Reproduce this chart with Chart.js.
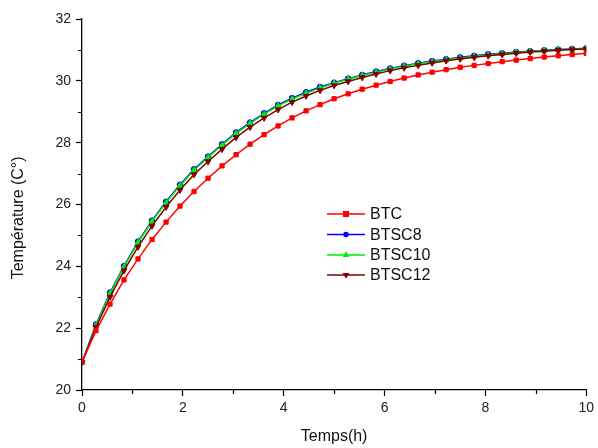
<!DOCTYPE html>
<html>
<head>
<meta charset="utf-8">
<script src="https://cdn.jsdelivr.net/npm/chart.js@4.4.0/dist/chart.umd.min.js"></script>
<style>
  html, body { margin: 0; padding: 0; background: #fff; }
  #wrap { width: 598px; height: 448px; }
</style>
</head>
<body>
<div id="wrap"><canvas id="chart" width="598" height="448"></canvas></div>
<script>
(function() {

  // time in hours (36 steps over 10 h)
  var temps = [0, 0.278, 0.556, 0.833, 1.111, 1.389, 1.667, 1.944, 2.222, 2.5, 2.778, 3.056,
    3.333, 3.611, 3.889, 4.167, 4.444, 4.722, 5, 5.278, 5.556, 5.833, 6.111, 6.389, 6.667,
    6.944, 7.222, 7.5, 7.778, 8.056, 8.333, 8.611, 8.889, 9.167, 9.444, 9.722, 10];

  var btc = [20.9, 21.92, 22.78, 23.56, 24.24, 24.87, 25.43, 25.95, 26.42, 26.85, 27.25, 27.61,
    27.95, 28.26, 28.54, 28.8, 29.03, 29.23, 29.42, 29.58, 29.73, 29.86, 29.98, 30.09, 30.19,
    30.28, 30.36, 30.44, 30.5, 30.56, 30.62, 30.67, 30.72, 30.77, 30.81, 30.85, 30.89];

  var btsc8 = [20.9, 22.12, 23.15, 24.01, 24.8, 25.48, 26.09, 26.64, 27.14, 27.55, 27.95, 28.33,
    28.65, 28.95, 29.22, 29.44, 29.63, 29.8, 29.94, 30.07, 30.19, 30.3, 30.4, 30.49, 30.57,
    30.64, 30.7, 30.76, 30.81, 30.86, 30.89, 30.93, 30.96, 30.99, 31.01, 31.03, 31.05];

  var btsc10 = [20.88, 22.09, 23.12, 23.98, 24.77, 25.45, 26.06, 26.61, 27.11, 27.52, 27.92, 28.3,
    28.62, 28.92, 29.19, 29.41, 29.6, 29.77, 29.92, 30.05, 30.17, 30.28, 30.38, 30.47, 30.55,
    30.62, 30.68, 30.74, 30.79, 30.84, 30.88, 30.92, 30.95, 30.98, 31.0, 31.02, 31.04];

  var btsc12 = [20.9, 22.03, 23.01, 23.86, 24.63, 25.31, 25.92, 26.47, 26.97, 27.39, 27.79, 28.17,
    28.5, 28.8, 29.07, 29.31, 29.51, 29.69, 29.85, 29.98, 30.11, 30.22, 30.33, 30.42, 30.5,
    30.58, 30.65, 30.71, 30.76, 30.81, 30.85, 30.89, 30.93, 30.96, 30.99, 31.01, 31.03];

  var seriesNames = ['BTC', 'BTSC8', 'BTSC10', 'BTSC12'];
  var seriesValues = [btc, btsc8, btsc10, btsc12];
  var seriesColours = ['#ff0000', '#0000ff', '#00ee00', '#800000'];
  var seriesMarkers = [
    {style: 'rect', radius: 3, rotation: 0},
    {style: 'circle', radius: 2.8, rotation: 0},
    {style: 'triangle', radius: 3.4, rotation: 0},
    {style: 'triangle', radius: 3.4, rotation: 180}
  ];
  var drawOrder = [1, 4, 3, 2];

  var font = 'Liberation Sans, Arial, sans-serif';

  function toPoints(values){
    return values.map(function(v, i){ return {x: temps[i], y: v}; });
  }

  var datasets = seriesNames.map(function(name, i){
    return {
      label: name,
      data: toPoints(seriesValues[i]),
      borderColor: seriesColours[i],
      backgroundColor: seriesColours[i],
      borderWidth: 1.5,
      pointStyle: seriesMarkers[i].style,
      pointRadius: seriesMarkers[i].radius,
      pointRotation: seriesMarkers[i].rotation,
      pointBorderWidth: 1,
      tension: 0,
      order: drawOrder[i]
    };
  });

  // minor ticks between labelled ticks, shorter than major ones
  var minorTicks = {
    id: 'minorTicks',
    afterDraw: function(chart){
      var ctx = chart.ctx;
      var xs = chart.scales.x, ys = chart.scales.y;
      ctx.save();
      ctx.strokeStyle = '#000';
      ctx.lineWidth = 1.2;
      ctx.beginPath();
      for (var v = xs.min + 1; v < xs.max; v += 2){
        var px = Math.round(xs.getPixelForValue(v)) + 0.5;
        ctx.moveTo(px, xs.top);
        ctx.lineTo(px, xs.top + 4);
      }
      for (var w = ys.min + 1; w < ys.max; w += 2){
        var py = Math.round(ys.getPixelForValue(w)) + 0.5;
        ctx.moveTo(ys.right, py);
        ctx.lineTo(ys.right - 4, py);
      }
      ctx.stroke();
      ctx.restore();
    }
  };

  function drawMarker(ctx, m, x, y, colour){
    ctx.fillStyle = colour;
    ctx.strokeStyle = colour;
    ctx.beginPath();
    var r = m.radius;
    if (m.style === 'rect'){
      ctx.rect(x - r, y - r, 2 * r, 2 * r);
    } else if (m.style === 'circle'){
      ctx.arc(x, y, r, 0, Math.PI * 2);
    } else {
      var dir = m.rotation === 180 ? 1 : -1;
      ctx.moveTo(x, y + dir * r * 1.1);
      ctx.lineTo(x - r, y - dir * r * 0.6);
      ctx.lineTo(x + r, y - dir * r * 0.6);
      ctx.closePath();
    }
    ctx.fill();
  }

  // legend sitting inside the plot, line sample with marker in the middle
  var insideLegend = {
    id: 'insideLegend',
    afterDraw: function(chart){
      var ctx = chart.ctx;
      var rows = [214, 234.5, 255, 275];
      ctx.save();
      chart.data.datasets.forEach(function(ds, i){
        var y = rows[i];
        ctx.strokeStyle = ds.borderColor;
        ctx.lineWidth = 1.5;
        ctx.beginPath();
        ctx.moveTo(327, y);
        ctx.lineTo(365, y);
        ctx.stroke();
        drawMarker(ctx, seriesMarkers[i], 346, y, ds.borderColor);
        ctx.fillStyle = '#111';
        ctx.font = '16px ' + font;
        ctx.textBaseline = 'middle';
        ctx.textAlign = 'left';
        ctx.fillText(ds.label, 370, y + 1);
      });
      ctx.restore();
    }
  };

  new Chart(document.getElementById('chart'), {
    type: 'line',
    data: {datasets: datasets},
    options: {
      responsive: false,
      animation: false,
      devicePixelRatio: 1,
      layout: {padding: {top: 19, right: 11, left: 0, bottom: 0}},
      plugins: {
        legend: {display: false},
        tooltip: {enabled: false}
      },
      scales: {
        x: {
          type: 'linear',
          min: 0,
          max: 10,
          afterFit: function(scale){ scale.height = 58; },
          border: {color: '#000', width: 1.3},
          grid: {drawOnChartArea: false, drawTicks: true, tickLength: 6, tickColor: '#000', tickWidth: 1.2},
          ticks: {stepSize: 2, color: '#222', padding: 4, font: {family: font, size: 14}},
          title: {display: true, text: 'Temps(h)', color: '#111', font: {family: font, size: 16}, padding: {top: 0, bottom: 2}}
        },
        y: {
          min: 20,
          max: 32,
          afterFit: function(scale){ scale.width = 82; },
          border: {color: '#000', width: 1.3},
          grid: {drawOnChartArea: false, drawTicks: true, tickLength: 6, tickColor: '#000', tickWidth: 1.2},
          ticks: {stepSize: 2, color: '#222', padding: 5, font: {family: font, size: 14}},
          title: {display: true, text: 'Température (C°)      ', color: '#111', font: {family: font, size: 16}, padding: {top: 9, bottom: 0}}
        }
      }
    },
    plugins: [minorTicks, insideLegend]
  });

}());
</script>
</body>
</html>
